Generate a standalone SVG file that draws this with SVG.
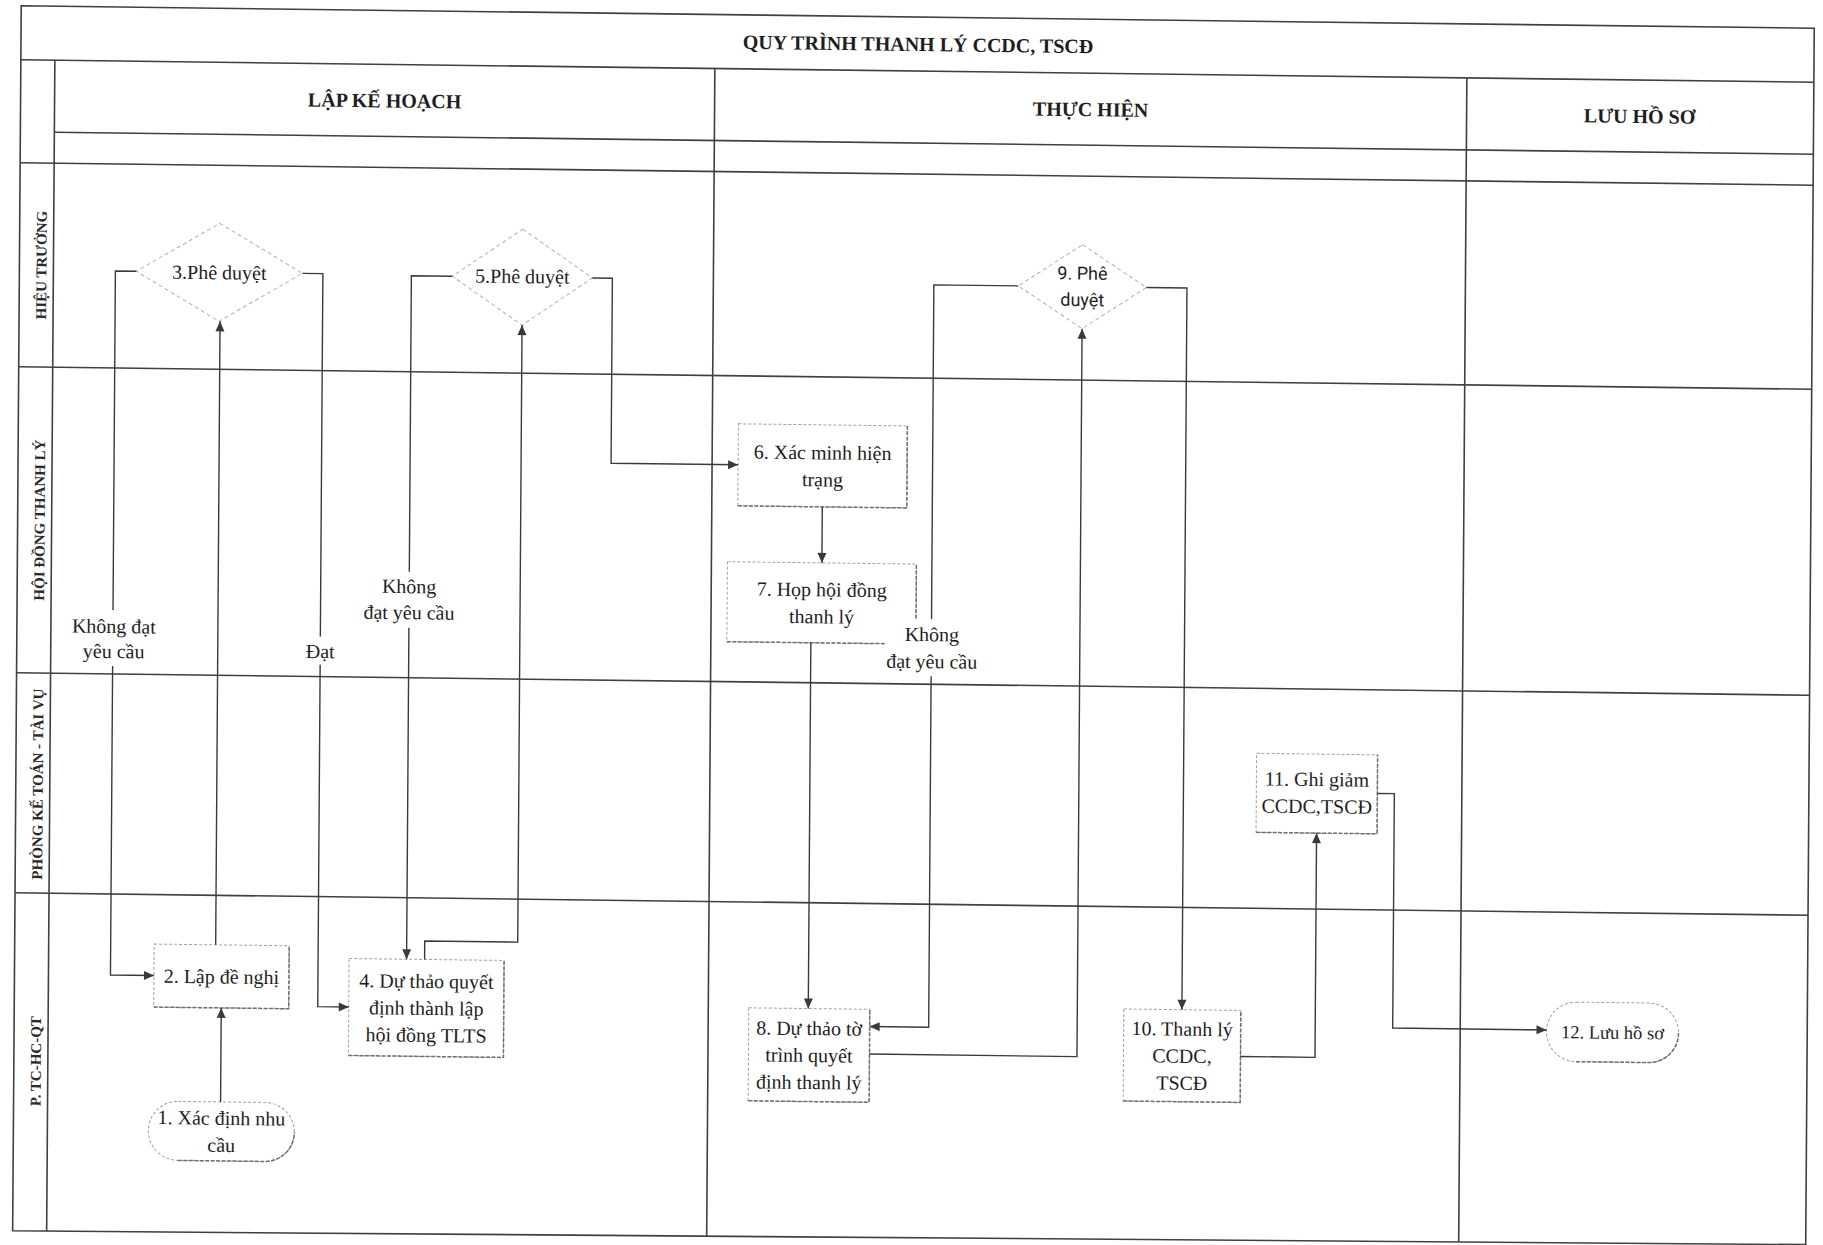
<svg xmlns="http://www.w3.org/2000/svg" width="1823" height="1245" viewBox="0 0 1823 1245">
<defs>
<marker id="arr" viewBox="0 0 10 10" refX="10" refY="5" markerWidth="11" markerHeight="10" markerUnits="userSpaceOnUse" orient="auto"><path d="M0,0.5 L10,5 L0,9.5 z" fill="#3a3a3a"/></marker>
<style>
.frame{fill:none;stroke:#404040;stroke-width:1.6}
.t{font-family:"Liberation Serif","Times New Roman",serif;font-size:20px;fill:#1e1e1e;text-anchor:middle}
.hd{font-weight:bold}
.lane{font-family:"Liberation Serif","Times New Roman",serif;font-size:15px;font-weight:bold;fill:#2a2a2a;text-anchor:middle}
.box{fill:#fff;stroke:#a0a0a0;stroke-width:1;stroke-dasharray:3 2}
.sh{fill:none;stroke:#707070;stroke-width:1.5;stroke-dasharray:4 1.5}
.dia{fill:#fff;stroke:#b0b0b0;stroke-width:1;stroke-dasharray:4 3}
.conn{fill:none;stroke:#3a3a3a;stroke-width:1.4}
.lbg{fill:#fff}
.sans{font-family:Roboto,"Liberation Sans",sans-serif;font-size:18px}
</style>
</defs>
<rect width="1823" height="1245" fill="#fff"/>
<g transform="matrix(1,0.0125,-0.007,1,4.354,-11.39)">
<g id="frame" class="frame">
<path d="M17,17 H1810 V1233.4 L17,1242 Z"/>
<line x1="17" y1="71" x2="1810" y2="71"/>
<line x1="51" y1="143" x2="1810" y2="143"/>
<line x1="17" y1="174" x2="1810" y2="174"/>
<line x1="17" y1="378" x2="1810" y2="378"/>
<line x1="17" y1="684" x2="1810" y2="684"/>
<line x1="17" y1="904" x2="1810" y2="904"/>
<line x1="51" y1="71" x2="51" y2="1241.8"/>
<line x1="711" y1="71" x2="711" y2="1238.7"/>
<line x1="1463" y1="71" x2="1463" y2="1235.1"/>
</g>
<g id="headers">
<text class="t hd" x="914" y="51">QUY TRÌNH THANH LÝ CCDC, TSCĐ</text>
<text class="t hd" x="381" y="114">LẬP KẾ HOẠCH</text>
<text class="t hd" x="1087" y="114">THỰC HIỆN</text>
<text class="t hd" x="1636" y="114">LƯU HỒ SƠ</text>
</g>
<g id="lanes">
<text class="lane" transform="translate(44,276) rotate(-90)">HIỆU TRƯỞNG</text>
<text class="lane" transform="translate(44,531) rotate(-90)">HỘI ĐỒNG THANH LÝ</text>
<text class="lane" transform="translate(44,795) rotate(-90)">PHÒNG KẾ TOÁN - TÀI VỤ</text>
<text class="lane" transform="translate(44,1072) rotate(-90)">P. TC-HC-QT</text>
</g>
<g id="n1">
<rect class="box" x="152" y="1110.5" width="146" height="59" rx="29.5"/>
<path class="sh" d="M181.5,1169.5 H268.5 A29.5,29.5 0 0 0 298,1140"/>
<text class="t" x="225" y="1133.5">1. Xác định nhu</text>
<text class="t" x="225" y="1160.5">cầu</text>
</g>
<g id="n2">
<rect class="box" x="156.5" y="953.5" width="135" height="63"/>
<path class="sh" d="M156.5,1016.5 H291.5 V953.5"/>
<text class="t" x="224" y="992">2. Lập đề nghị</text>
</g>
<g id="n3">
<path class="dia" d="M217,232 L300,281 L217,330 L134,281 Z"/>
<text class="t" x="217" y="288">3.Phê duyệt</text>
</g>
<g id="n4">
<rect class="box" x="351.5" y="965.5" width="155" height="97"/>
<path class="sh" d="M351.5,1062.5 H506.5 V965.5"/>
<text class="t" x="429" y="994">4. Dự thảo quyết</text>
<text class="t" x="429" y="1021">định thành lập</text>
<text class="t" x="429" y="1048">hội đồng TLTS</text>
</g>
<g id="n5">
<path class="dia" d="M520,234 L590,282 L520,330 L450,282 Z"/>
<text class="t" x="520" y="288">5.Phê duyệt</text>
</g>
<g id="n6">
<rect class="box" x="737" y="426" width="169" height="82"/>
<path class="sh" d="M737,508 H906 V426"/>
<text class="t" x="821.5" y="460.5">6. Xác minh hiện</text>
<text class="t" x="821.5" y="487.5">trạng</text>
</g>
<g id="n7">
<rect class="box" x="727" y="564" width="189" height="80"/>
<path class="sh" d="M727,644 H916 V564"/>
<text class="t" x="821.5" y="597.5">7. Họp hội đồng</text>
<text class="t" x="821.5" y="624.5">thanh lý</text>
</g>
<g id="n8">
<rect class="box" x="751.5" y="1009.8" width="121" height="93"/>
<path class="sh" d="M751.5,1102.8 H872.5 V1009.8"/>
<text class="t" x="812" y="1036.3">8. Dự thảo tờ</text>
<text class="t" x="812" y="1063.3">trình quyết</text>
<text class="t" x="812" y="1090.3">định thanh lý</text>
</g>
<g id="n9">
<path class="dia" d="M1080,242.6 L1144,284.6 L1080,326.6 L1016,284.6 Z"/>
<text class="t sans" x="1080" y="277.5">9. Phê</text>
<text class="t sans" x="1080" y="304">duyệt</text>
</g>
<g id="n10">
<rect class="box" x="1126.5" y="1006.3" width="117" height="92"/>
<path class="sh" d="M1126.5,1098.3 H1243.5 V1006.3"/>
<text class="t" x="1185" y="1032.3">10. Thanh lý</text>
<text class="t" x="1185" y="1059.3">CCDC,</text>
<text class="t" x="1185" y="1086.3">TSCĐ</text>
</g>
<g id="n11">
<rect class="box" x="1257.5" y="749" width="121" height="79"/>
<path class="sh" d="M1257.5,828 H1378.5 V749"/>
<text class="t" x="1318" y="781">11. Ghi giảm</text>
<text class="t" x="1318" y="808">CCDC,TSCĐ</text>
</g>
<g id="n12">
<rect class="box" x="1549.3" y="993.8" width="132" height="59.5" rx="29.7"/>
<path class="sh" d="M1579,1053.3 H1651.6 A29.7,29.7 0 0 0 1681.3,1023.5"/>
<text class="t" x="1615.3" y="1030" style="font-size:18.5px">12. Lưu hồ sơ</text>
</g>
<g id="connectors">
<path class="conn" marker-end="url(#arr)" d="M224,1110.5 V1016.5"/>
<path class="conn" marker-end="url(#arr)" d="M218,953.5 V330"/>
<path class="conn" marker-end="url(#arr)" d="M134,281 H113 V985 H156.5"/>
<path class="conn" marker-end="url(#arr)" d="M300,281 H320.5 V1014 H351.5"/>
<path class="conn" marker-end="url(#arr)" d="M427,965.5 V947 H520 V330"/>
<path class="conn" marker-end="url(#arr)" d="M450,282 H409 V965.5"/>
<path class="conn" marker-end="url(#arr)" d="M590,282 H610 V467 H737"/>
<path class="conn" marker-end="url(#arr)" d="M821.5,508 V564"/>
<path class="conn" marker-end="url(#arr)" d="M811,644 V1009.8"/>
<path class="conn" marker-end="url(#arr)" d="M1016,284.6 H931.5 V1027 H872.5"/>
<path class="conn" marker-end="url(#arr)" d="M872.5,1054.5 H1080 V326.6"/>
<path class="conn" marker-end="url(#arr)" d="M1144,284.6 H1184.6 V1006.3"/>
<path class="conn" marker-end="url(#arr)" d="M1243.5,1052.3 H1318 V828"/>
<path class="conn" marker-end="url(#arr)" d="M1378.5,787.6 H1395.5 V1022 H1549.3"/>
<rect class="lbg" x="71" y="620" width="86" height="56"/>
<text class="t" x="114" y="643">Không đạt</text>
<text class="t" x="114" y="668">yêu cầu</text>
<rect class="lbg" x="304" y="644" width="33" height="28"/>
<text class="t" x="320.5" y="665.5">Đạt</text>
<rect class="lbg" x="362" y="578" width="94" height="56"/>
<text class="t" x="409" y="599.5">Không</text>
<text class="t" x="409" y="625.5">đạt yêu cầu</text>
<rect class="lbg" x="885" y="619" width="94" height="57"/>
<text class="t" x="932" y="641">Không</text>
<text class="t" x="932" y="668">đạt yêu cầu</text>
</g>
</g>
</svg>
